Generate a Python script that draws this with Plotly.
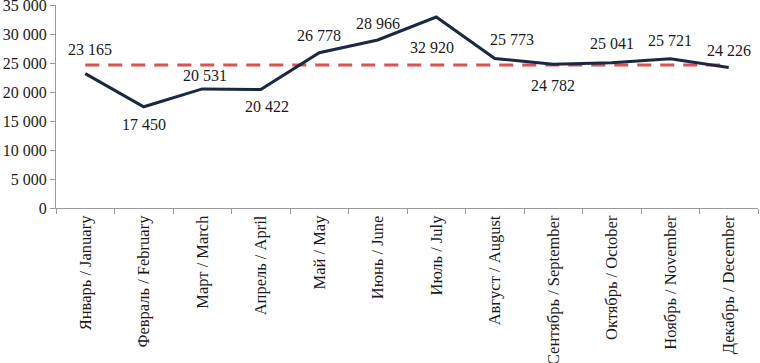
import plotly.graph_objects as go

months = ["Январь / January", "Февраль / February", "Март / March", "Апрель / April",
          "Май / May", "Июнь / June", "Июль / July", "Август / August",
          "Сентябрь / September", "Октябрь / October", "Ноябрь / November", "Декабрь / December"]
values = [23165, 17450, 20531, 20422, 26778, 28966, 32920, 25773, 24782, 25041, 25721, 24226]
average = [24648] * 12
y_ticks = [0, 5000, 10000, 15000, 20000, 25000, 30000, 35000]

# label styling (offsets in px)
label_dy = [24, -18, 13, -17, 17, 17, -30, 19, -21, 19, 18, 17]
label_dx = [5, 0, 3, 6, 0, 0, -4, 17, 0, 0, 0, 0]

FONT = "Liberation Serif, Times New Roman, serif"

fig = go.Figure()
fig.add_trace(go.Scatter(x=months, y=average, mode="lines",
                         line=dict(color="#D9534F", width=3, dash="14px,9px"),
                         hoverinfo="skip", showlegend=False))
fig.add_trace(go.Scatter(x=months, y=values, mode="lines",
                         line=dict(color="#1B2844", width=3),
                         showlegend=False))

for m, v, dy, dx in zip(months, values, label_dy, label_dx):
    fig.add_annotation(x=m, y=v, text=f"{v:,}".replace(",", " "), showarrow=False,
                       yshift=dy, xshift=dx,
                       font=dict(family=FONT, size=16, color="#1a1a1a"))

fig.update_layout(
    width=760, height=363,
    margin=dict(l=56, r=2, t=5, b=155),
    paper_bgcolor="white", plot_bgcolor="white",
    separators=", ",
    font=dict(family=FONT, size=16, color="#1a1a1a"),
)
fig.update_xaxes(type="category", range=[-0.5, len(months) - 0.5], tickangle=-90,
                 showline=True, linecolor="#9a9a9a", linewidth=1,
                 ticks="outside", tickson="boundaries", ticklen=5, tickcolor="#9a9a9a",
                 showgrid=False, automargin=False,
                 tickfont=dict(family=FONT, size=16.5, color="#1a1a1a"))
fig.update_yaxes(range=[0, 35000], tickvals=y_ticks, tickformat=",d", showline=True,
                 linecolor="#9a9a9a", linewidth=1, ticks="outside", ticklen=5, tickcolor="#9a9a9a",
                 showgrid=False, zeroline=False, automargin=False, ticklabeloverflow="allow",
                 tickfont=dict(family=FONT, size=16, color="#1a1a1a"))

fig.write_html("out.html", config={"displayModeBar": False},
               post_script="document.body.style.margin='0';document.body.style.overflow='hidden';")
